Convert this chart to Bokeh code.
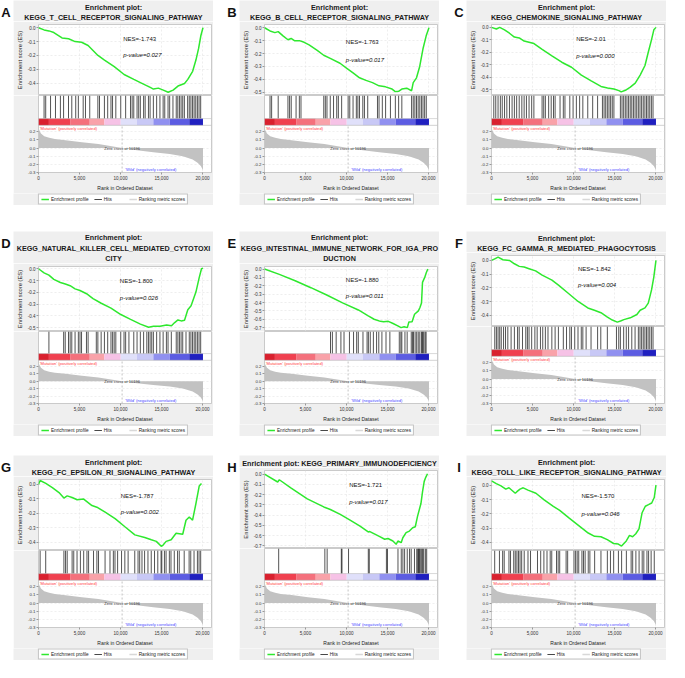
import numpy as np
from bokeh.plotting import figure
from bokeh.layouts import column, row
from bokeh.models import (Range1d, Label, Span, Legend, LegendItem, NumeralTickFormatter,
                          SingleIntervalTicker, FixedTicker, Spacer)
from bokeh.embed import file_html
from bokeh.resources import INLINE

# ----------------------------------------------------------------- data
letters = ["A", "B", "C", "D", "E", "F", "G", "H", "I"]
titles = [
    ["Enrichment plot:", "KEGG_T_CELL_RECEPTOR_SIGNALING_PATHWAY"],
    ["Enrichment plot:", "KEGG_B_CELL_RECEPTOR_SIGNALING_PATHWAY"],
    ["Enrichment plot:", "KEGG_CHEMOKINE_SIGNALING_PATHWAY"],
    ["Enrichment plot:", "KEGG_NATURAL_KILLER_CELL_MEDIATED_CYTOTOXI", "CITY"],
    ["Enrichment plot:", "KEGG_INTESTINAL_IMMUNE_NETWORK_FOR_IGA_PRO", "DUCTION"],
    ["Enrichment plot:", "KEGG_FC_GAMMA_R_MEDIATED_PHAGOCYTOSIS"],
    ["Enrichment plot:", "KEGG_FC_EPSILON_RI_SIGNALING_PATHWAY"],
    ["Enrichment plot: KEGG_PRIMARY_IMMUNODEFICIENCY"],
    ["Enrichment plot:", "KEGG_TOLL_LIKE_RECEPTOR_SIGNALING_PATHWAY"],
]
nes_values = ["-1.743", "-1.763", "-2.01", "-1.800", "-1.880", "-1.842", "-1.787", "-1.721", "-1.570"]
p_values = ["0.027", "0.017", "0.000", "0.026", "0.011", "0.004", "0.002", "0.017", "0.046"]

# running enrichment score (rank, ES)
A_rank = [0, 680, 1280, 1870, 2870, 3670, 4460, 5260, 6050, 7250, 8050, 9240, 10440, 11630, 12430, 13630, 14020, 14620, 15220, 15820, 16420, 17010, 17810, 18210, 18800, 19200, 19520, 19800, 20060]
A_es = [0.0, -0.016, -0.023, -0.035, -0.074, -0.08, -0.10, -0.105, -0.128, -0.20, -0.233, -0.28, -0.337, -0.372, -0.395, -0.43, -0.442, -0.435, -0.449, -0.465, -0.449, -0.42, -0.402, -0.372, -0.314, -0.233, -0.151, -0.058, 0.0]
B_rank = [0, 675, 1270, 1670, 2260, 2860, 3250, 3650, 4250, 4840, 5440, 6430, 7220, 8020, 9210, 10000, 10800, 11590, 12380, 13170, 13970, 14760, 15560, 15950, 16350, 16750, 17340, 17940, 18140, 18540, 18930, 19330, 19720, 20060]
B_es = [0.0, -0.025, -0.038, -0.03, -0.063, -0.093, -0.083, -0.10, -0.10, -0.113, -0.133, -0.175, -0.213, -0.238, -0.275, -0.313, -0.35, -0.388, -0.408, -0.425, -0.45, -0.458, -0.475, -0.495, -0.493, -0.475, -0.468, -0.488, -0.425, -0.388, -0.30, -0.163, -0.063, 0.0]
C_rank = [0, 600, 1000, 1590, 2190, 2790, 3390, 3980, 4580, 5180, 6180, 7370, 8570, 9760, 10960, 12160, 13350, 14150, 14940, 15540, 15820, 16330, 16930, 17530, 18130, 18720, 19120, 19520, 19800, 20060]
C_es = [0.0, -0.013, 0.0, -0.02, -0.047, -0.078, -0.085, -0.11, -0.12, -0.13, -0.176, -0.228, -0.28, -0.32, -0.383, -0.43, -0.474, -0.487, -0.495, -0.508, -0.518, -0.505, -0.48, -0.448, -0.383, -0.306, -0.20, -0.098, -0.02, 0.0]
D_rank = [0, 680, 1270, 1870, 2670, 3270, 3860, 4460, 5060, 5860, 6650, 7650, 8840, 10040, 11230, 12430, 13430, 14020, 14820, 15620, 16220, 16610, 17010, 17410, 17810, 18210, 18610, 19200, 19600, 19880, 20060]
D_es = [0.0, -0.035, -0.054, -0.09, -0.117, -0.13, -0.144, -0.171, -0.185, -0.212, -0.253, -0.293, -0.334, -0.389, -0.43, -0.47, -0.497, -0.489, -0.489, -0.478, -0.484, -0.457, -0.435, -0.443, -0.437, -0.348, -0.315, -0.198, -0.076, 0.0, 0.005]
E_rank = [0, 1810, 3740, 5660, 7590, 9520, 11450, 12600, 13370, 14140, 14530, 15100, 15680, 16260, 16650, 17030, 17420, 17610, 18000, 18300, 18770, 18960, 19150, 19270, 19540, 19730, 19920]
E_es = [0.0, -0.064, -0.14, -0.223, -0.31, -0.405, -0.489, -0.557, -0.60, -0.625, -0.63, -0.625, -0.65, -0.678, -0.70, -0.69, -0.70, -0.633, -0.63, -0.54, -0.50, -0.46, -0.405, -0.16, -0.10, -0.045, 0.0]
F_rank = [0, 400, 800, 1390, 2190, 2790, 3390, 3980, 4580, 5380, 6180, 7370, 8170, 9360, 10560, 11750, 12550, 13350, 14140, 14740, 15340, 15740, 16140, 16930, 17730, 18130, 18720, 19120, 19520, 19800, 20060]
F_es = [0.0, 0.012, 0.024, 0.005, 0.0, -0.024, -0.043, -0.048, -0.06, -0.076, -0.107, -0.143, -0.179, -0.238, -0.298, -0.345, -0.362, -0.38, -0.412, -0.433, -0.448, -0.44, -0.43, -0.417, -0.393, -0.362, -0.345, -0.31, -0.214, -0.119, 0.0]
G_rank = [0, 200, 890, 1690, 2500, 3100, 3500, 4100, 4710, 5510, 6520, 7120, 8130, 9340, 10540, 11750, 12960, 13760, 14370, 14970, 15170, 15570, 16180, 16780, 17590, 17990, 18390, 18790, 19190, 19600, 19880]
G_es = [0.0, 0.027, 0.007, -0.022, -0.056, -0.094, -0.079, -0.09, -0.106, -0.101, -0.146, -0.157, -0.191, -0.236, -0.292, -0.348, -0.366, -0.382, -0.393, -0.427, -0.42, -0.393, -0.382, -0.337, -0.344, -0.247, -0.225, -0.247, -0.135, -0.011, 0.007]
H_rank = [0, 1610, 1810, 3210, 5220, 7230, 8030, 9240, 10440, 11650, 12650, 12850, 14060, 14660, 15060, 15660, 16060, 16270, 16670, 16870, 17270, 17670, 18070, 18390, 18670, 19080, 19280, 19480, 19680, 19880]
H_es = [0.0, -0.077, -0.055, -0.135, -0.242, -0.32, -0.345, -0.393, -0.448, -0.506, -0.564, -0.56, -0.61, -0.635, -0.628, -0.652, -0.684, -0.652, -0.668, -0.62, -0.571, -0.555, -0.523, -0.513, -0.41, -0.287, -0.168, -0.071, -0.029, 0.003]
I_rank = [0, 580, 1160, 1740, 2130, 2900, 3100, 3480, 3870, 4450, 5420, 6380, 7540, 8320, 9480, 10640, 11800, 12570, 13350, 14120, 14890, 15470, 15860, 16440, 16830, 17210, 17600, 17990, 18370, 18760, 19150, 19540, 19850, 20060]
I_es = [0.03, 0.011, -0.005, -0.027, -0.018, -0.056, -0.045, -0.027, -0.018, -0.034, -0.056, -0.10, -0.147, -0.176, -0.23, -0.282, -0.334, -0.357, -0.36, -0.38, -0.407, -0.411, -0.425, -0.389, -0.35, -0.36, -0.339, -0.305, -0.192, -0.147, -0.136, -0.124, -0.086, 0.0]

# gene-set hit positions (rank)
A_hits = [680, 880, 1470, 2070, 2670, 3060, 3660, 4060, 4540, 4860, 5450, 5730, 6250, 7240, 7440, 8040, 8440, 8840, 9030, 9430, 10030, 10630, 11220, 11420, 11620, 12020, 12220, 12420, 12820, 13010, 13410, 13610, 14010, 14410, 14810, 15200, 15400, 15800, 16000, 16400, 16800, 16990, 17190, 17390, 17590, 17790, 18190, 18390, 18590, 18790, 18980, 19180, 19380, 19580, 19780]
B_hits = [675, 870, 1670, 2860, 3060, 3260, 3850, 4250, 4450, 7230, 7420, 7620, 8020, 8420, 8810, 9010, 9410, 10200, 10400, 10800, 11200, 11390, 11590, 11990, 12190, 12590, 13780, 13970, 14370, 14770, 15360, 15960, 16360, 16750, 17940, 18140, 18340, 18540, 18740, 18940, 19140, 19330, 19530, 19730]
C_hits = [280, 520, 800, 1080, 1310, 1590, 1870, 2190, 2510, 2790, 3070, 3380, 3700, 3980, 4260, 4580, 4900, 5170, 6170, 6370, 6570, 6970, 7280, 7560, 7760, 8360, 8760, 8960, 9550, 9950, 10350, 10750, 11140, 11740, 12340, 12940, 13530, 13730, 13930, 14130, 14330, 14530, 14730, 14930, 15720, 15920, 16120, 16320, 16520, 16720, 16920, 17110, 17310, 17510, 17710, 17910, 18110, 18310, 18510, 18710, 18910, 19100, 19300, 19500, 19700]
D_hits = [1270, 3070, 3260, 3660, 3860, 4060, 4460, 4860, 5060, 5250, 5850, 6050, 7050, 7240, 7640, 8040, 8440, 8840, 9040, 9230, 9430, 10030, 10430, 10630, 11030, 11620, 12020, 12420, 12820, 13210, 13410, 13610, 13810, 14010, 14410, 14810, 15200, 15600, 15800, 16200, 16800, 17000, 17190, 17390, 17590, 17990, 18390, 18590, 18790, 18990, 19180, 19380, 19580, 19780]
E_hits = [8050, 8280, 8740, 9320, 9700, 10360, 10860, 11240, 11440, 12010, 12510, 12670, 12900, 13280, 13670, 13940, 14320, 14820, 15290, 16440, 16630, 16750, 17130, 17400, 17900, 18060, 18170, 18370, 18560, 18750, 18940, 19140, 19250, 19330, 19440, 19600, 19710]
F_hits = [400, 600, 800, 1000, 1190, 1470, 1710, 1990, 2390, 2790, 3180, 3380, 3780, 4180, 4380, 4580, 4900, 5290, 5570, 5970, 6250, 6570, 6890, 7360, 7760, 8160, 8760, 9150, 9550, 9750, 10150, 10550, 10950, 11140, 11540, 12140, 12940, 13330, 14130, 15240, 15520, 15720, 16120, 16440, 16720, 17110, 17510, 17910, 18110, 18310, 18510, 18710, 18910, 19100, 19300, 19500, 19700]
G_hits = [200, 880, 3100, 3300, 3500, 4100, 4300, 4700, 5110, 5510, 5910, 6110, 6710, 7120, 7320, 8120, 8720, 9130, 9330, 9650, 10130, 10530, 10930, 11740, 12140, 12340, 12620, 12940, 13350, 13750, 14150, 14550, 14950, 15040, 15360, 15560, 15960, 16160, 16560, 16960, 17170, 17770, 18370, 18570, 18970, 19380, 19580, 19780]
H_hits = [1730, 7360, 7640, 9370, 9450, 10250, 12660, 12780, 14870, 15000, 16280, 16680, 16880, 17090, 17410, 17690, 17890, 18290, 18570, 18690, 18790, 18870, 18950, 19080, 19200, 19300, 19420, 19620, 19780]
I_hits = [390, 970, 1360, 1550, 2130, 2320, 2710, 2900, 3100, 3290, 3480, 3680, 3990, 4450, 4760, 5610, 6000, 6390, 6770, 7160, 7350, 7930, 8130, 8320, 9100, 9290, 10060, 10260, 10450, 10640, 11030, 11220, 11420, 11800, 12000, 12580, 13350, 14130, 14510, 14900, 15480, 15870, 16450, 17030, 17220, 17610, 18000, 18380, 18580, 18960, 19160, 19470, 19850]

# ranked list metric (Signal2Noise), shared by all panels
metric_rank = [0, 100, 300, 700, 1300, 2000, 3300, 5300, 7300, 10196, 12000, 14000, 16000, 17600, 18800, 19400, 19800, 20000, 20060]
metric_value = [0.27, 0.22, 0.18, 0.145, 0.127, 0.112, 0.098, 0.072, 0.05, 0.0, -0.027, -0.05, -0.073, -0.10, -0.14, -0.18, -0.22, -0.26, -0.29]
zero_cross = 10196

# heat-map bar under the hits
cb_edges = [0, 1270, 3860, 6250, 8040, 10030, 12000, 14010, 16000, 18390, 20060]
cb_colors = ["#d9202e", "#f0404f", "#f4707c", "#f9a2a9", "#f6c2e6", "#e0e0fa", "#c8c8f6", "#9090f0", "#5c5ce2", "#2020c0"]

legend_labels = ["Enrichment profile", "Hits", "Ranking metric scores"]

# ----------------------------------------------------------------- layout / style
es_ranks = [A_rank, B_rank, C_rank, D_rank, E_rank, F_rank, G_rank, H_rank, I_rank]
es_scores = [A_es, B_es, C_es, D_es, E_es, F_es, G_es, H_es, I_es]
hits_all = [A_hits, B_hits, C_hits, D_hits, E_hits, F_hits, G_hits, H_hits, I_hits]
es_ylim = [(-0.488, 0.023), (-0.525, 0.025), (-0.547, 0.023), (-0.533, 0.019), (-0.746, 0.03),
           (-0.48, 0.036), (-0.456, 0.034), (-0.725, 0.035), (-0.456, 0.04)]
# (x fraction, NES y fraction from top, p-value y fraction from top)
txt_pos = [(0.49, 0.20, 0.43), (0.47, 0.25, 0.50), (0.49, 0.21, 0.45), (0.47, 0.22, 0.48), (0.47, 0.20, 0.46),
           (0.50, 0.19, 0.42), (0.475, 0.23, 0.46), (0.49, 0.19, 0.41), (0.52, 0.23, 0.48)]

FONT = "Liberation Sans"
BG = "#efefef"
GREEN = "#2ee82e"
X_END = 21100
RANK_LIM = (-0.3, 0.28)
rank_ticks = [-0.3, -0.2, -0.1, 0.0, 0.1, 0.2]

PANEL_W, LETTER_W, LEFT, RIGHT = 200, 13, 25, 2
AX_BOT, LEG_H, ES_TOP = 18, 12, 3
SIZES = {1: (12, 78, 33, 49), 2: (21, 71, 31, 49), 3: (32, 65, 30, 45)}  # title, es frame, hits band, rank frame
TITLE_OFFS = {1: [7.5], 2: [6.5, 17], 3: [6, 16.5, 27]}
CB_PX = 7
COMMON = dict(toolbar_location=None, output_backend="svg", frame_align=False)


def bare(fig, bg):
    fig.grid.visible = False
    fig.outline_line_color = None
    fig.background_fill_color = bg
    fig.border_fill_color = bg


def style_axis(ax, size):
    ax.major_label_text_font = FONT
    ax.major_label_text_font_size = size
    ax.major_label_text_color = "#333333"
    ax.major_tick_out = 2
    ax.major_tick_in = 0
    ax.major_tick_line_color = "#999999"
    ax.minor_tick_line_color = None
    ax.axis_line_color = None
    ax.major_label_standoff = 1
    ax.axis_label_text_font = FONT
    ax.axis_label_text_font_style = "normal"
    ax.axis_label_text_color = "#222222"
    ax.axis_label_standoff = 2


def panel(i):
    nl = len(titles[i])
    T, EF, HB, RF = SIZES[nl]
    total = T + ES_TOP + EF + HB + RF + AX_BOT + LEG_H
    xr = Range1d(0, X_END)

    # letter
    lf = figure(width=LETTER_W, height=total, x_range=Range1d(0, 1), y_range=Range1d(0, total),
                x_axis_location=None, y_axis_location=None, min_border=0, **COMMON)
    bare(lf, "white")
    lf.add_layout(Label(x=0.42, y=total - 4, text=letters[i], text_align="center", text_baseline="top",
                        text_font=FONT, text_font_size="13px", text_font_style="bold", text_color="#111111"))

    # title
    tf = figure(width=PANEL_W, height=T, x_range=Range1d(0, 1), y_range=Range1d(0, T),
                x_axis_location=None, y_axis_location=None, min_border=0, **COMMON)
    bare(tf, BG)
    for line, off in zip(titles[i], TITLE_OFFS[nl]):
        tf.add_layout(Label(x=0.5, y=T - off, text=line, text_align="center", text_baseline="middle",
                            text_font=FONT, text_font_size="7.2px", text_font_style="bold", text_color="#1a1a1a"))

    # enrichment score
    ylo, yhi = es_ylim[i]
    es = figure(width=PANEL_W, height=EF + ES_TOP, x_range=xr, y_range=Range1d(ylo, yhi), x_axis_location=None,
                min_border=0, min_border_left=LEFT, min_border_right=RIGHT, min_border_top=ES_TOP, **COMMON)
    es.background_fill_color = "white"
    es.border_fill_color = BG
    es.outline_line_color = "#b5b5b5"
    es.outline_line_width = 0.7
    es.yaxis[0].ticker = SingleIntervalTicker(interval=0.1, num_minor_ticks=0)
    es.yaxis[0].formatter = NumeralTickFormatter(format="0.0")
    es.yaxis[0].axis_label = "Enrichment score (ES)"
    style_axis(es.yaxis[0], "4.5px")
    es.yaxis[0].axis_label_text_font_size = "5.8px"
    es.xgrid.ticker = SingleIntervalTicker(interval=5000, num_minor_ticks=0)
    es.grid.grid_line_color = "#e2e2e2"
    es.grid.grid_line_dash = "2 2"
    es.grid.grid_line_width = 0.6
    es.line(es_ranks[i], es_scores[i], line_color=GREEN, line_width=1.5)
    fx, fn, fp = txt_pos[i]
    es.add_layout(Label(x=fx * X_END, y=yhi - fn * (yhi - ylo), text="NES=" + nes_values[i],
                        text_baseline="middle", text_font=FONT, text_font_size="6px", text_color="#111111"))
    es.add_layout(Label(x=fx * X_END, y=yhi - fp * (yhi - ylo), text="p-value=" + p_values[i],
                        text_baseline="middle", text_font=FONT, text_font_size="6px",
                        text_font_style="italic", text_color="#111111"))

    # hits + heat bar + ranked metric
    rlo, rhi = RANK_LIM
    rtop = rlo + (rhi - rlo) * (HB + RF) / RF
    lo = figure(width=PANEL_W, height=HB + RF + AX_BOT, x_range=xr, y_range=Range1d(rlo, rtop),
                min_border=0, min_border_left=LEFT, min_border_right=RIGHT, min_border_bottom=AX_BOT, **COMMON)
    lo.extra_y_ranges = {"hits": Range1d(1 - (HB + RF) / HB, 1)}
    lo.background_fill_color = "white"
    lo.border_fill_color = BG
    lo.outline_line_color = "#b5b5b5"
    lo.outline_line_width = 0.7
    lo.xgrid.visible = False
    lo.ygrid.ticker = FixedTicker(ticks=rank_ticks)
    lo.ygrid.grid_line_color = "#e6e6e6"
    lo.ygrid.grid_line_dash = "2 2"
    lo.ygrid.grid_line_width = 0.6
    cbf = CB_PX / HB
    lo.quad(left=cb_edges[:-1], right=cb_edges[1:], bottom=0, top=cbf, fill_color=cb_colors,
            line_color=None, y_range_name="hits")
    lo.segment(x0=hits_all[i], x1=hits_all[i], y0=cbf, y1=1, line_color="#000000", line_width=0.8,
               line_alpha=0.85, y_range_name="hits")
    lo.add_layout(Span(location=cbf, dimension="width", y_range_name="hits", line_color="#c0c0c0", line_width=0.6))
    lo.add_layout(Span(location=rhi, dimension="width", line_color="#b5b5b5", line_width=0.6))
    lo.varea(x=metric_rank, y1=0, y2=metric_value, fill_color="#c2c2c2")
    lo.segment(x0=[zero_cross], x1=[zero_cross], y0=[rlo], y1=[rhi], line_color="#9a9a9a",
               line_width=0.6, line_dash="2 2")
    lo.add_layout(Label(x=150, y=rhi, y_offset=-1, text="'Mutation' (positively correlated)", text_baseline="top",
                        text_font=FONT, text_font_size="4.1px", text_color="#ff4040"))
    lo.add_layout(Label(x=zero_cross, y=0, text="Zero cross at %d" % zero_cross, text_align="center",
                        text_baseline="middle", text_font=FONT, text_font_size="4px", text_color="#333333"))
    lo.add_layout(Label(x=13700, y=-0.265, text="'Wild' (negatively correlated)", text_align="center",
                        text_baseline="middle", text_font=FONT, text_font_size="4.1px", text_color="#4848ff"))
    lo.add_layout(Label(x=0, x_offset=-16, y=(rlo + rhi) / 2, angle=np.pi / 2, text="Ranked list metric (Signal2Noise)",
                        text_align="center", text_baseline="middle", text_font=FONT, text_font_size="4.6px",
                        text_color="#222222"))
    ya = lo.yaxis[0]
    ya.ticker = FixedTicker(ticks=rank_ticks)
    ya.formatter = NumeralTickFormatter(format="0.0")
    ya.bounds = RANK_LIM
    style_axis(ya, "4.3px")
    xa = lo.xaxis[0]
    xa.ticker = SingleIntervalTicker(interval=5000, num_minor_ticks=0)
    xa.formatter = NumeralTickFormatter(format="0,0")
    xa.axis_label = "Rank in Ordered Dataset"
    style_axis(xa, "4.6px")
    xa.axis_label_text_font_size = "5px"
    xa.axis_label_standoff = 2

    # legend strip (swatch renderers sit outside the visible range)
    lg = figure(width=PANEL_W, height=LEG_H, x_range=Range1d(0, 1), y_range=Range1d(0, 1),
                x_axis_location=None, y_axis_location=None, min_border=0, **COMMON)
    bare(lg, BG)
    off = [-5, -4]
    r1 = lg.line(x=off, y=off, line_color=GREEN, line_width=1.6)
    r2 = lg.line(x=off, y=off, line_color="#333333", line_width=0.9)
    r3 = lg.line(x=off, y=off, line_color="#d8d8d8", line_width=1.6)
    leg = Legend(items=[LegendItem(label=legend_labels[0], renderers=[r1]),
                        LegendItem(label=legend_labels[1], renderers=[r2]),
                        LegendItem(label=legend_labels[2], renderers=[r3])],
                 orientation="horizontal", location="center",
                 label_text_font=FONT, label_text_font_size="4.7px", label_text_color="#222222",
                 glyph_width=8, glyph_height=5, label_height=5, label_standoff=2, spacing=5,
                 padding=2, margin=0, border_line_color="#8a8a8a", border_line_width=0.6,
                 background_fill_color="white", background_fill_alpha=1.0)
    lg.add_layout(leg, "center")

    return row(lf, column(tf, es, lo, lg, spacing=0), spacing=0)


rows_ = []
col_gaps = [13, 14]
for r in range(3):
    items = []
    for c in range(3):
        if c > 0:
            items.append(Spacer(width=col_gaps[c - 1], height=10))
        items.append(panel(3 * r + c))
    rows_.append(row(*items, spacing=0))

layout = column(rows_[0], Spacer(width=10, height=26), rows_[1], Spacer(width=10, height=19), rows_[2], spacing=0)

open("out.html", "w").write(file_html(layout, INLINE))
